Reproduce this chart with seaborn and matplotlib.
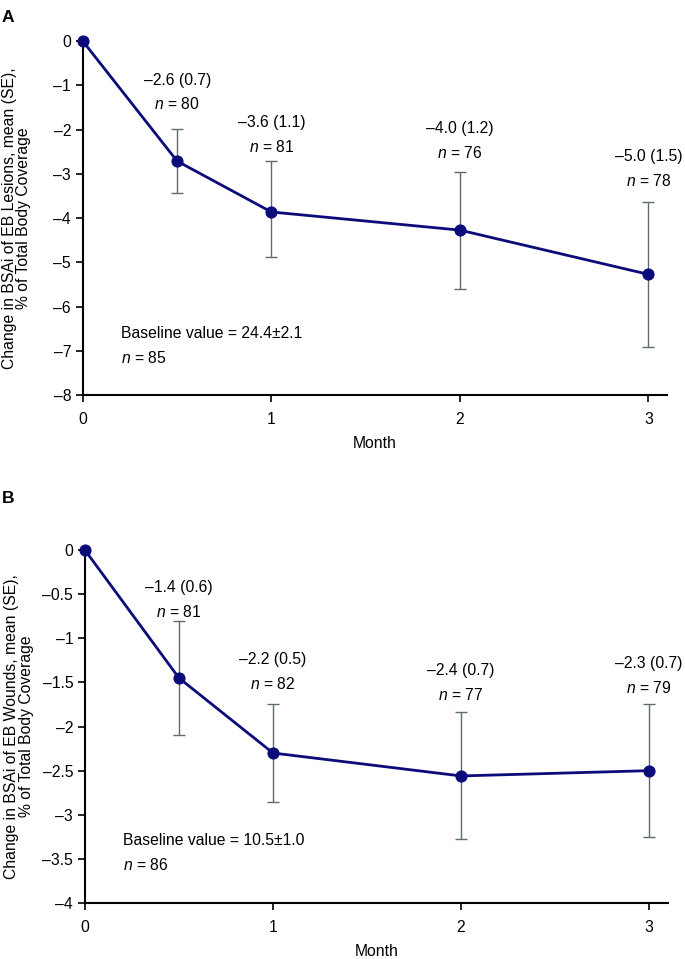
import matplotlib
matplotlib.use("Agg")
from matplotlib import pyplot as plt
from matplotlib.ticker import FuncFormatter
import pandas as pd
import numpy as np
import seaborn as sns

# month of visit
months = [0, 0.5, 1, 2, 3]

# panel A: lesions
a_mean = [0, -2.71, -3.86, -4.27, -5.27]
a_upper = [0, -1.99, -2.71, -2.96, -3.64]
a_lower = [0, -3.44, -4.88, -5.60, -6.91]
a_labels = ["\u20132.6 (0.7)", "\u20133.6 (1.1)", "\u20134.0 (1.2)", "\u20135.0 (1.5)"]
a_n = ["80", "81", "76", "78"]
a_label_y = [-0.88, -1.83, -1.97, -2.60]

# panel B: wounds
b_mean = [0, -1.45, -2.30, -2.56, -2.50]
b_upper = [0, -0.80, -1.75, -1.84, -1.75]
b_lower = [0, -2.10, -2.86, -3.27, -3.25]
b_labels = ["\u20131.4 (0.6)", "\u20132.2 (0.5)", "\u20132.4 (0.7)", "\u20132.3 (0.7)"]
b_n = ["81", "82", "77", "79"]
b_label_y = [-0.42, -1.24, -1.36, -1.28]

sns.set_style("white")
plt.rcParams['font.family'] = ['Liberation Sans', 'DejaVu Sans']
plt.rcParams['mathtext.fontset'] = 'custom'
plt.rcParams['mathtext.it'] = 'Liberation Sans:italic'
plt.rcParams['mathtext.rm'] = 'Liberation Sans'
plt.rcParams['text.color'] = 'black'
plt.rcParams['axes.labelcolor'] = 'black'

LINE = '#0b0b7a'
ERR = '#5f6b6b'
FS = 11.3


def fmt(v, pos):
    s = ('%g' % v)
    return s.replace('-', '\u2013')


def panel(ax, mean, upper, lower, labels, ns, label_y, dy, ylim, step,
          baseline, base_n, base_y, ylabel):
    df = pd.DataFrame({'Month': months, 'mean': mean, 'upper': upper, 'lower': lower})
    yerr = [df['mean'] - df['lower'], df['upper'] - df['mean']]
    ax.errorbar(df['Month'][1:], df['mean'][1:], yerr=[yerr[0][1:], yerr[1][1:]],
                fmt='none', ecolor=ERR, elinewidth=1.0, capsize=4, capthick=1.0, zorder=2)
    sns.lineplot(data=df, x='Month', y='mean', ax=ax, color=LINE, lw=2, marker='o',
                 markersize=8, markeredgecolor=LINE, zorder=3, clip_on=False)
    for x, lab, n, y in zip(months[1:], labels, ns, label_y):
        ax.text(x, y, lab, ha='center', va='center', fontsize=FS)
        ax.text(x, y - dy, '$n$ = ' + n, ha='center', va='center', fontsize=FS)
    ax.text(0.2, base_y, baseline, ha='left', va='center', fontsize=FS)
    ax.text(0.2, base_y - dy, '$n$ = ' + base_n, ha='left', va='center', fontsize=FS)

    ax.set_xlim(0, 3.1)
    ax.set_ylim(*ylim)
    ax.set_xticks([0, 1, 2, 3])
    ax.set_yticks(np.arange(ylim[0], ylim[1] + step / 2, step))
    ax.yaxis.set_major_formatter(FuncFormatter(fmt))
    sns.despine(ax=ax)
    for s in ['left', 'bottom']:
        ax.spines[s].set_color('black')
        ax.spines[s].set_linewidth(1.5)
    ax.tick_params(axis='both', direction='out', length=5, width=1.2, labelsize=FS,
                   colors='black', left=True, bottom=True)
    ax.tick_params(axis='x', pad=7)
    ax.set_xlabel('Month', fontsize=FS, labelpad=7)
    ax.set_ylabel(ylabel, fontsize=FS, linespacing=0.95)
    ax.yaxis.set_label_coords(-0.088, 0.5)


fig = plt.figure(figsize=(6.85, 9.59), dpi=100)
ax1 = fig.add_axes([0.121, 0.588, 0.853, 0.369])
ax2 = fig.add_axes([0.124, 0.0584, 0.851, 0.368])

panel(ax1, a_mean, a_upper, a_lower, a_labels, a_n, a_label_y, 0.55, (-8, 0), 1,
      'Baseline value = 24.4\u00b12.1', '85', -6.6,
      'Change in BSAi of EB Lesions, mean (SE),\n% of Total Body Coverage')
panel(ax2, b_mean, b_upper, b_lower, b_labels, b_n, b_label_y, 0.28, (-4, 0), 0.5,
      'Baseline value = 10.5\u00b11.0', '86', -3.29,
      'Change in BSAi of EB Wounds, mean (SE),\n% of Total Body Coverage')

fig.text(0.003, 0.99, 'A', fontsize=12.5, fontweight='bold', va='top')
fig.text(0.003, 0.488, 'B', fontsize=12.5, fontweight='bold', va='top')

fig.savefig('out.png', dpi=100)
